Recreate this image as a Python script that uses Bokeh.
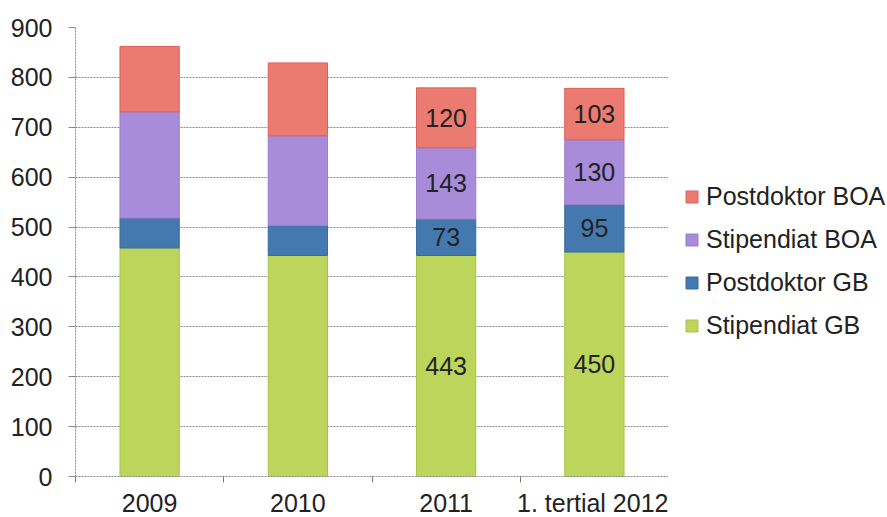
from bokeh.plotting import figure
from bokeh.layouts import row
from bokeh.models import ColumnDataSource, Legend, LegendItem, FixedTicker, Range1d
from bokeh.embed import file_html
from bokeh.resources import INLINE
from bokeh.core.properties import value

# ---- data ----
categories = ["2009", "2010", "2011", "1. tertial 2012"]
stipendiat_gb = [458, 443, 443, 450]
postdoktor_gb = [60, 60, 73, 95]
stipendiat_boa = [213, 180, 143, 130]
postdoktor_boa = [131, 146, 120, 103]
series_names = ["Stipendiat GB", "Postdoktor GB", "Stipendiat BOA", "Postdoktor BOA"]
series_values = [stipendiat_gb, postdoktor_gb, stipendiat_boa, postdoktor_boa]
labeled_categories = ["2011", "1. tertial 2012"]
y_ticks = [0, 100, 200, 300, 400, 500, 600, 700, 800, 900]

colors = ["#BDD55B", "#4479AF", "#A88CD9", "#EB7A70"]
edges = ["#A9C24A", "#3A6C9E", "#9A7FCC", "#E0605A"]
FONT = "Liberation Sans"
TXT = "#222222"

n = len(categories)
xs = [i + 0.5 for i in range(n)]
keys = ["s%d" % k for k in range(len(series_names))]
data = {"x": xs}
for k, vals in zip(keys, series_values):
    data[k] = vals
src = ColumnDataSource(data)

p = figure(frame_width=593, frame_height=449, x_range=Range1d(0, n), y_range=Range1d(0, 900),
           output_backend="svg", toolbar_location=None,
           min_border_left=75, min_border_right=0, min_border_top=27, min_border_bottom=41)
p.outline_line_color = None

renderers = p.vbar_stack(keys, x="x", width=0.4, source=src,
                         fill_color=colors, line_color=edges, line_width=1)

# value labels (centered in segments) for the labeled categories
lx, ly, lt = [], [], []
for i, c in enumerate(categories):
    if c not in labeled_categories:
        continue
    base = 0
    for vals in series_values:
        lx.append(xs[i])
        ly.append(base + vals[i] / 2)
        lt.append(str(vals[i]))
        base += vals[i]
p.text(x=lx, y=ly, text=lt, text_align="center", text_baseline="middle",
       text_font=value(FONT), text_font_size="25px", text_color=TXT)

# x axis: labels at category centers, ticks at category boundaries
xa = p.xaxis[0]
xa.ticker = FixedTicker(ticks=xs, minor_ticks=list(range(n + 1)))
xa.major_label_overrides = {x: c for x, c in zip(xs, categories)}
xa.major_tick_line_color = None
xa.major_tick_out = 0
xa.major_tick_in = 0
xa.minor_tick_out = 6
xa.minor_tick_in = 0
xa.minor_tick_line_color = "#777777"
xa.axis_line_color = "#888888"
xa.axis_line_dash = "2 1"
xa.axis_label_standoff = 0
xa.major_label_standoff = 6
xa.major_label_text_line_height = 1.0
xa.major_label_text_font = FONT
xa.major_label_text_font_size = "25px"
xa.major_label_text_color = TXT

ya = p.yaxis[0]
ya.ticker = FixedTicker(ticks=y_ticks, minor_ticks=[])
ya.axis_line_color = "#888888"
ya.axis_line_dash = "2 1"
ya.major_tick_out = 7
ya.major_tick_in = 0
ya.major_tick_line_color = "#888888"
ya.minor_tick_line_color = None
ya.major_label_standoff = 16
ya.major_label_text_font = FONT
ya.major_label_text_font_size = "25px"
ya.major_label_text_color = TXT

p.xgrid.grid_line_color = None
p.ygrid.grid_line_color = "#8a8a8a"
p.ygrid.grid_line_dash = "2 1"
p.ygrid.grid_line_width = 1

# legend panel to the right of the plot (swatch renderers sit outside its ranges)
q = figure(width=219, height=517, x_range=Range1d(0, 1), y_range=Range1d(0, 1),
           output_backend="svg", toolbar_location=None, min_border=0,
           x_axis_location=None, y_axis_location=None)
q.outline_line_color = None
q.grid.visible = False
legend_renderers = [q.vbar(x=[50], bottom=[40], top=[41], width=0.5, fill_color=c, line_color=e)
                    for c, e in zip(colors, edges)]
items = [LegendItem(label=name, renderers=[r]) for name, r in zip(series_names, legend_renderers)]
items.reverse()
legend = Legend(items=items, location=(16, 134), orientation="vertical",
                padding=0, margin=0, border_line_color=None, background_fill_alpha=0,
                glyph_width=15, glyph_height=15, label_standoff=7, spacing=14,
                label_text_font=FONT, label_text_font_size="25px", label_text_color=TXT)
q.add_layout(legend)

layout = row(p, q, spacing=0)
open("out.html", "w").write(file_html(layout, INLINE))
